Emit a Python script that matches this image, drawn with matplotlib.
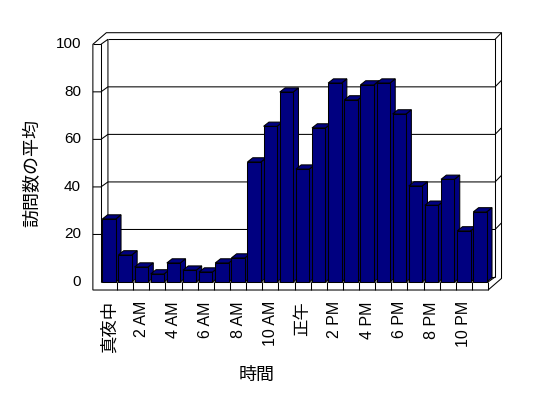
import matplotlib
matplotlib.use('Agg')
import matplotlib.pyplot as plt
from matplotlib.patches import Polygon

plt.rcParams['font.family'] = ['Liberation Sans', 'Noto Sans CJK JP', 'DejaVu Sans']

# ---- data ----
values = [26.5, 11.4, 6.3, 3.4, 8.0, 5.0, 4.2, 8.0, 10.1, 50.5, 65.5, 79.9,
          47.5, 64.8, 83.7, 76.6, 82.9, 83.7, 70.7, 40.4, 32.3, 43.2, 21.5, 29.5]
x_tick_labels = ['真夜中', '2 AM', '4 AM', '6 AM', '8 AM', '10 AM',
                 '正午', '2 PM', '4 PM', '6 PM', '8 PM', '10 PM']
y_ticks = [0, 20, 40, 60, 80, 100]
x_title = '時間'
y_title = '訪問数の平均'

# ---- style ----
BAR_COLOR = '#000080'
EDGE = 'black'
LW = 0.75

fig = plt.figure(figsize=(5.48, 3.98), dpi=100)
fig.patch.set_facecolor('white')
ax = fig.add_axes([0, 0, 1, 1])
ax.set_xlim(-6.758, 27.216)
ax.set_ylim(-48.8, 118.64)
ax.axis('off')

n = len(values)
top = max(y_ticks)
xli = -0.5            # inner face of left wall
xlo = -1.0            # outer face of left wall
xr = n - 0.5          # right end of floor
fdx, fdy = 0.434, 2.10   # floor depth (oblique)
wdx, wdy = 0.40, 2.78    # back wall thickness
floor_bot = -3.37
hw = 0.415               # half bar width
bdx, bdy = 0.33, 1.77    # bar depth


def line(pts, z=2):
    xs, ys = zip(*pts)
    ax.plot(xs, ys, color=EDGE, lw=LW, zorder=z, solid_joinstyle='miter',
            solid_capstyle='butt')


# outer silhouette of walls + floor
outline = [(xlo, floor_bot), (xlo, top), (xlo + fdx + wdx, top + fdy + wdy),
           (xr + fdx + wdx, top + fdy + wdy), (xr + fdx + wdx, floor_bot + fdy + wdy),
           (xr, floor_bot)]
ax.add_patch(Polygon(outline, closed=True, facecolor='white', edgecolor=EDGE,
                     lw=LW, zorder=1, joinstyle='miter'))

# left wall
line([(xlo, top), (xli, top), (xli, 0)])
line([(xli, top), (xli + fdx, top + fdy), (xli + fdx, fdy)])
# back wall
line([(xli + fdx, top + fdy), (xr + fdx, top + fdy), (xr + fdx, fdy)])
line([(xr + fdx, top + fdy), (xr + fdx + wdx, top + fdy + wdy)])
# floor
line([(xli, 0), (xr, 0), (xr + fdx, fdy)])
line([(xli + fdx, fdy), (xr + fdx, fdy)])
for k in range(n):
    line([(k + 0.5, floor_bot), (k + 0.5, 0)])
# gridlines
for v in y_ticks[1:-1]:
    line([(xlo, v), (xli, v), (xli + fdx, v + fdy), (xr + fdx, v + fdy),
          (xr + fdx + wdx, v + fdy + wdy)])

# bars
for i, v in enumerate(values):
    z = 10 + 2 * i
    side = [(i + hw, 0), (i + hw + bdx, bdy), (i + hw + bdx, v + bdy), (i + hw, v)]
    topf = [(i - hw, v), (i - hw + bdx, v + bdy), (i + hw + bdx, v + bdy), (i + hw, v)]
    for poly in (side, topf):
        ax.add_patch(Polygon(poly, closed=True, facecolor=BAR_COLOR, edgecolor=EDGE,
                             lw=LW, zorder=z, joinstyle='miter'))
    ax.bar(i, v, width=2 * hw, color=BAR_COLOR, edgecolor=EDGE, lw=LW,
           zorder=z + 1, joinstyle='miter')

# tick labels
for v in y_ticks:
    ax.text(-1.736, v, str(v), ha='right', va='center', fontsize=11)
for j, lab in enumerate(x_tick_labels):
    is_cjk = any(ord(c) > 0x2E80 for c in lab)
    ax.text(2 * j, -8.0, lab, rotation=90, ha='center', va='top',
            fontsize=12.5 if is_cjk else 11.5)

# titles
ax.text(9.18, -39.5, x_title, ha='center', va='center', fontsize=13)
ax.text(-4.71, 45.9, y_title, rotation=90, ha='center', va='center', fontsize=13)

fig.savefig('out.png', dpi=100, facecolor='white')
